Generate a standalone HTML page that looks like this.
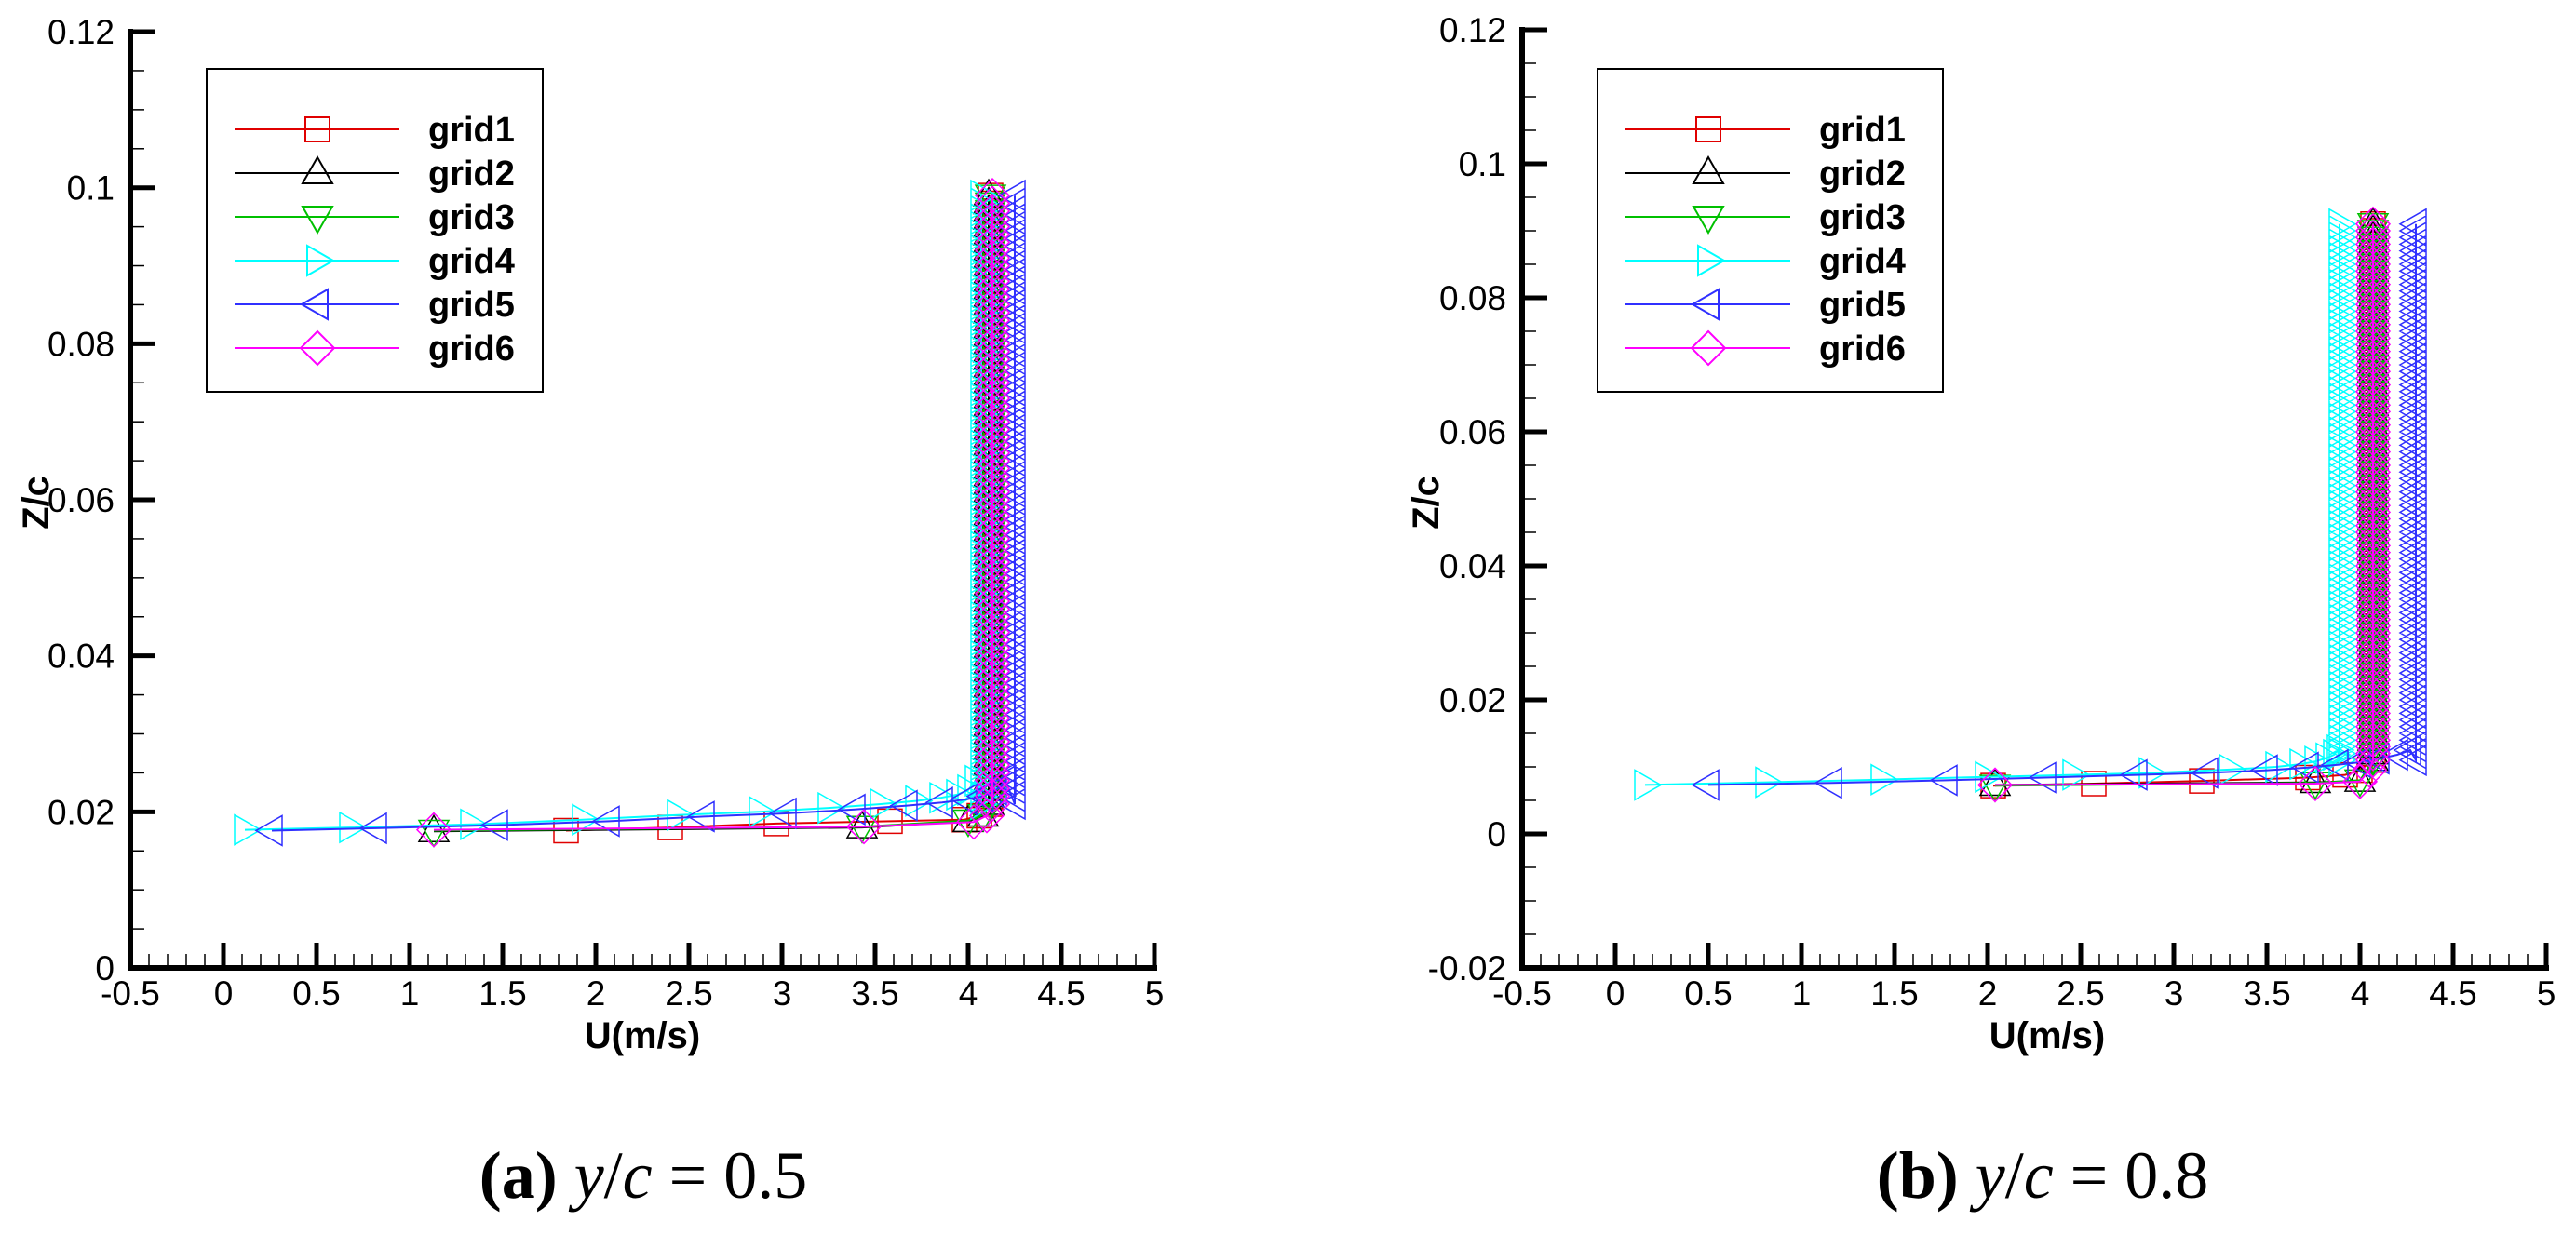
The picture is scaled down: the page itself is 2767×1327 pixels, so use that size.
<!DOCTYPE html>
<html><head><meta charset="utf-8">
<style>
html,body{margin:0;padding:0;background:#fff;}
svg{display:block;}
</style></head>
<body>
<svg id="fig" width="2767" height="1327" viewBox="0 0 2767 1327" xmlns="http://www.w3.org/2000/svg" font-family="Liberation Sans, sans-serif"></svg>
<script>
// ---------- data ----------
const seriesNames = ["grid1","grid2","grid3","grid4","grid5","grid6"];
const xTicks = [-0.5,0,0.5,1,1.5,2,2.5,3,3.5,4,4.5,5];
const xTickLabels = ["-0.5","0","0.5","1","1.5","2","2.5","3","3.5","4","4.5","5"];
const yTicksA = [0,0.02,0.04,0.06,0.08,0.1,0.12];
const yTickLabelsA = ["0","0.02","0.04","0.06","0.08","0.1","0.12"];
const yTicksB = [-0.02,0,0.02,0.04,0.06,0.08,0.1,0.12];
const yTickLabelsB = ["-0.02","0","0.02","0.04","0.06","0.08","0.1","0.12"];

// panel (a) y/c = 0.5 : horizontal (near-wall) part
const a_g1_U = [1.84,2.40,2.97,3.58,3.98,4.06];
const a_g1_Z = [0.0176,0.0180,0.0185,0.0188,0.0190,0.0195];
const a_g2_U = [1.13,3.43,4.00,4.08];
const a_g2_Z = [0.0175,0.0180,0.0188,0.0195];
const a_g3_U = [1.13,3.43,4.00,4.08];
const a_g3_Z = [0.0176,0.0181,0.0189,0.0196];
const a_g4_U = [0.115,0.68,1.33,1.93,2.44,2.88,3.25,3.53,3.72,3.85,3.94,4.0,4.04];
const a_g4_Z = [0.0177,0.0180,0.0184,0.0190,0.0196,0.0200,0.0205,0.0210,0.0214,0.0218,0.0222,0.0228,0.0240];
const a_g5_U = [0.26,0.82,1.47,2.07,2.58,3.02,3.39,3.67,3.86,3.99,4.08,4.15,4.20];
const a_g5_Z = [0.0176,0.0179,0.0183,0.0188,0.0194,0.0198,0.0203,0.0208,0.0212,0.0216,0.0220,0.0228,0.0240];
const a_g6_U = [1.13,3.44,4.03,4.10];
const a_g6_Z = [0.0177,0.0181,0.0187,0.0195];
// panel (a) outer (vertical) part
const a_vertU = [4.12,4.11,4.12,4.07,4.25,4.13];
const a_vertZ = [0.021,0.022,0.023,0.024,0.025,0.026,0.027,0.028,0.029,0.030,0.031,0.032,0.033,0.034,0.035,0.036,0.037,0.038,0.039,0.040,0.041,0.042,0.043,0.044,0.045,0.046,0.047,0.048,0.049,0.050,0.051,0.052,0.053,0.054,0.055,0.056,0.057,0.058,0.059,0.060,0.061,0.062,0.063,0.064,0.065,0.066,0.067,0.068,0.069,0.070,0.071,0.072,0.073,0.074,0.075,0.076,0.077,0.078,0.079,0.080,0.081,0.082,0.083,0.084,0.085,0.086,0.087,0.088,0.089,0.090,0.091,0.092,0.093,0.094,0.095,0.096,0.097,0.098,0.099];

// panel (b) y/c = 0.8
const b_g1_U = [2.03,2.57,3.15,3.72,3.92,4.00];
const b_g1_Z = [0.0072,0.0075,0.0079,0.0084,0.0088,0.0095];
const b_g2_U = [2.04,3.76,4.00];
const b_g2_Z = [0.0073,0.0077,0.0079];
const b_g3_U = [2.04,3.76,4.00];
const b_g3_Z = [0.0072,0.0076,0.0080];
const b_g4_U = [0.16,0.81,1.43,1.99,2.46,2.87,3.30,3.55,3.68,3.76,3.82,3.86,3.88];
const b_g4_Z = [0.0073,0.0077,0.0081,0.0085,0.0088,0.0091,0.0096,0.0100,0.0104,0.0108,0.0113,0.0118,0.0125];
const b_g5_U = [0.50,1.16,1.78,2.31,2.80,3.18,3.50,3.72,3.88,4.00,4.10,4.20,4.27];
const b_g5_Z = [0.0073,0.0076,0.0080,0.0084,0.0088,0.0091,0.0095,0.0099,0.0103,0.0107,0.0112,0.0118,0.0125];
const b_g6_U = [2.04,3.76,4.00,4.05];
const b_g6_Z = [0.0073,0.0075,0.0078,0.0095];
const b_vertU = [4.07,4.07,4.07,3.89,4.30,4.07];
const b_vertZ = [0.011,0.012,0.013,0.014,0.015,0.016,0.017,0.018,0.019,0.020,0.021,0.022,0.023,0.024,0.025,0.026,0.027,0.028,0.029,0.030,0.031,0.032,0.033,0.034,0.035,0.036,0.037,0.038,0.039,0.040,0.041,0.042,0.043,0.044,0.045,0.046,0.047,0.048,0.049,0.050,0.051,0.052,0.053,0.054,0.055,0.056,0.057,0.058,0.059,0.060,0.061,0.062,0.063,0.064,0.065,0.066,0.067,0.068,0.069,0.070,0.071,0.072,0.073,0.074,0.075,0.076,0.077,0.078,0.079,0.080,0.081,0.082,0.083,0.084,0.085,0.086,0.087,0.088,0.089,0.090,0.091];

// ---------- drawing ----------
const NS = "http://www.w3.org/2000/svg";
const svg = document.getElementById("fig");
const colors = ["#e00000","#000000","#00c000","#00ffff","#3030ff","#ff00ff"];
const shapes = ["square","tri-up","tri-down","tri-right","tri-left","diamond"];

function mk(tag, attrs, parent){
  const e = document.createElementNS(NS, tag);
  for (const k in attrs) e.setAttribute(k, attrs[k]);
  (parent||svg).appendChild(e);
  return e;
}
function markerPath(shape, x, y){
  if (shape==="square") return `M${x-13},${y-13}h26v26h-26z`;
  if (shape==="tri-up") return `M${x},${y-17}L${x+16},${y+11}L${x-16},${y+11}z`;
  if (shape==="tri-down") return `M${x},${y+17}L${x+16},${y-11}L${x-16},${y-11}z`;
  if (shape==="tri-right") return `M${x+17},${y}L${x-11},${y-16}L${x-11},${y+16}z`;
  if (shape==="tri-left") return `M${x-17},${y}L${x+11},${y-16}L${x+11},${y+16}z`;
  return `M${x},${y-18}L${x+18},${y}L${x},${y+18}L${x-18},${y}z`;
}

function drawPanel(p){
  const g = mk("g",{});
  
  
  const sx = u => p.x0 + (u - p.xmin) * p.xs;
  const sy = z => p.yBottom - (z - p.ymin) * p.ys;
  const ax = mk("g",{},g);
  
  
  mk("line",{x1:p.x0,y1:sy(0.12)-3,x2:p.x0,y2:p.yBottom+3,stroke:"#000","stroke-width":6},ax);
  mk("line",{x1:p.x0-3,y1:p.yBottom,x2:sx(5)+3,y2:p.yBottom,stroke:"#000","stroke-width":6},ax);
  xTicks.forEach((t,i)=>{
    const x = sx(t);
    mk("line",{x1:x,y1:p.yBottom,x2:x,y2:p.yBottom-27,stroke:"#000","stroke-width":5},ax);
    if (i < xTicks.length-1){
      for (let k=1;k<5;k++){
        const xm = sx(t + k*0.1);
        mk("line",{x1:xm,y1:p.yBottom,x2:xm,y2:p.yBottom-15,stroke:"#000","stroke-width":1.5},ax);
      }
    }
    const tl = mk("text",{x:x,y:p.yBottom+40,"font-size":37,"text-anchor":"middle",fill:"#000"},ax);
    
    
    tl.textContent = xTickLabels[i];
  });
  p.yTicks.forEach((t,i)=>{
    const y = sy(t);
    mk("line",{x1:p.x0,y1:y,x2:p.x0+27,y2:y,stroke:"#000","stroke-width":5},ax);
    if (i < p.yTicks.length-1){
      for (let k=1;k<4;k++){
        const ym = sy(t + k*0.005);
        mk("line",{x1:p.x0,y1:ym,x2:p.x0+15,y2:ym,stroke:"#000","stroke-width":1.5},ax);
      }
    }
    const tl = mk("text",{x:p.x0-17,y:y+13,"font-size":37,"text-anchor":"end",fill:"#000"},ax);
    
    
    tl.textContent = p.yTickLabels[i];
  });
  const xt = mk("text",{x:p.xTitleX,y:1126,"font-size":40,"font-weight":"bold","text-anchor":"middle",fill:"#000"},g);
  
  
  xt.textContent = "U(m/s)";
  const yt = mk("text",{x:0,y:0,"font-size":40,"font-weight":"bold","text-anchor":"middle",fill:"#000",transform:`translate(${p.yTitleX},540) rotate(-90)`},g);
  
  
  yt.textContent = "Z/c";
  p.series.forEach((s,i)=>{
    const sg = mk("g",{},g);
    
    
    const U = s.U.slice(), Z = s.Z.slice();
    p.vertZ.forEach(z=>{ U.push(p.vertU[i]); Z.push(z); });
    const pts = U.map((u,j)=> sx(u).toFixed(1)+","+sy(Z[j]).toFixed(1)).join(" ");
    const pl = mk("polyline",{points:pts,fill:"none",stroke:colors[i],"stroke-width":2},sg);
    
    
    let d = "";
    U.forEach((u,j)=>{ d += markerPath(shapes[i], sx(u), sy(Z[j])); });
    const mp = mk("path",{d:d,fill:"none",stroke:colors[i],"stroke-width":1.5},sg);
    
    
  });
  const lg = mk("g",{},g);
  
  
  mk("rect",{x:p.legX,y:74,width:p.legW,height:347,fill:"#fff",stroke:"#000","stroke-width":2},lg);
  seriesNames.forEach((n,i)=>{
    const y = 139 + i*47;
    const le = mk("g",{},lg);
    
    
    mk("line",{x1:p.legX+30,y1:y,x2:p.legX+207,y2:y,stroke:colors[i],"stroke-width":2},le);
    mk("path",{d:markerPath(shapes[i], p.legX+119, y),fill:"none",stroke:colors[i],"stroke-width":2},le);
    const t = mk("text",{x:p.legX+238,y:y+13,"font-size":38,"font-weight":"bold",fill:"#000"},le);
    t.textContent = n;
  });
  const cap = mk("text",{x:p.capX,y:1287,"font-size":72,"text-anchor":"middle","font-family":"Liberation Serif, serif",fill:"#000"},g);
  
  
  cap.innerHTML = `<tspan font-weight="bold">(${p.capLetter})</tspan> <tspan font-style="italic">y</tspan>/<tspan font-style="italic">c</tspan> = ${p.capVal}`;
}

drawPanel({
  name:"panel-a", x0:140, xmin:-0.5, xs:200, yBottom:1040, ymin:0, ys:8383,
  yTicks:yTicksA, yTickLabels:yTickLabelsA, xTitleX:690, yTitleX:52,
  legX:222, legW:361, capX:691, capLetter:"a", capVal:"0.5",
  vertU:a_vertU, vertZ:a_vertZ,
  series:[{U:a_g1_U,Z:a_g1_Z},{U:a_g2_U,Z:a_g2_Z},{U:a_g3_U,Z:a_g3_Z},{U:a_g4_U,Z:a_g4_Z},{U:a_g5_U,Z:a_g5_Z},{U:a_g6_U,Z:a_g6_Z}]
});
drawPanel({
  name:"panel-b", x0:1635, xmin:-0.5, xs:200, yBottom:1040, ymin:-0.02, ys:7200,
  yTicks:yTicksB, yTickLabels:yTickLabelsB, xTitleX:2199, yTitleX:1545,
  legX:1716, legW:371, capX:2194, capLetter:"b", capVal:"0.8",
  vertU:b_vertU, vertZ:b_vertZ,
  series:[{U:b_g1_U,Z:b_g1_Z},{U:b_g2_U,Z:b_g2_Z},{U:b_g3_U,Z:b_g3_Z},{U:b_g4_U,Z:b_g4_Z},{U:b_g5_U,Z:b_g5_Z},{U:b_g6_U,Z:b_g6_Z}]
});
</script>
</body></html>
